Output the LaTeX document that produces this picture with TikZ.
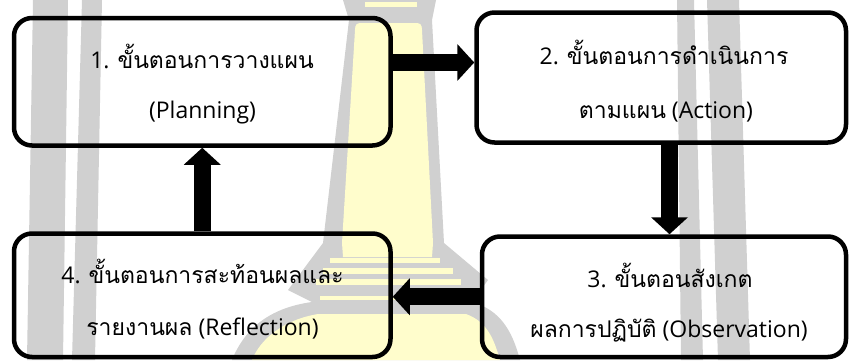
\documentclass[tikz,border=0pt]{standalone}
\usepackage{fontspec}
\setmainfont{Open Sans}
\newfontfamily\thaifont[Script=Thai]{Loma}
\newcommand\thx[1]{{\thaifont #1}}
\usetikzlibrary{arrows.meta,calc}
\definecolor{wmgray}{RGB}{208,208,208}
\definecolor{wmyel}{RGB}{255,253,204}
\begin{document}
\begin{tikzpicture}[x=1pt,y=-1pt,
  box/.style={draw=black, line width=4.5pt, rounded corners=18pt, inner sep=0pt},
  lbl/.style={anchor=base, inner sep=0pt, font=\fontsize{23}{28}\selectfont},
  fat/.style={line width=17pt, -{Triangle[length=17pt,width=36pt]}},
  wmg/.style={fill=wmgray, draw=none},
  wmy/.style={fill=wmyel, draw=none}]
\useasboundingbox (0,0) rectangle (849,360);
\clip (0,0) rectangle (849,360);
% ---- watermark ----
\fill[wmg] (33,0) -- (68,0) -- (63,360) -- (27,360) -- cycle;
\fill[wmg] (82,0) -- (102,0) -- (95,360) -- (72,360) -- cycle;
\fill[wmg] (677,0) -- (694,0) -- (703,360) -- (681,360) -- cycle;
\fill[wmg] (707,0) -- (739,0) -- (750,360) -- (718,360) -- cycle;
% stupa
\fill[wmg] (343,0) -- (436,0) -- (432,20) -- (444,243) -- (488,280) -- (472,302)
  .. controls (500,310) and (512,330) .. (520,360) -- (232,360)
  .. controls (244,330) and (268,308) .. (312,302) -- (288,290) -- (323,243) -- (349,20) -- cycle;
\fill[wmy] (365,2) rectangle (417,7);
\fill[wmy] (342,243) -- (355,30) .. controls (355,24) and (357,23) .. (362,23) -- (415,23)
  .. controls (420,23) and (422,24) .. (422,30) -- (433,243) -- (432,257) -- (343,257) -- cycle;
\fill[wmy] (330,258) rectangle (440,263);
\fill[wmy] (323,268) rectangle (453,274);
\fill[wmy] (316,279) rectangle (461,285);
\fill[wmy] (320,296) rectangle (462,300);
\fill[wmy] (318,314) .. controls (282,320) and (260,340) .. (252,360) -- (500,360)
  .. controls (494,340) and (488,322) .. (466,314) -- cycle;
% ---- boxes ----
\node[box, minimum width=376.5pt, minimum height=127.5pt] (b1) at (202.25,81.75) {};
\node[box, minimum width=369.5pt, minimum height=130pt] (b2) at (661.25,77.5) {};
\node[box, minimum width=364pt, minimum height=120.5pt] (b3) at (664,296.75) {};
\node[box, minimum width=376.5pt, minimum height=123.5pt] (b4) at (202.25,295.25) {};
% ---- texts ----
\node[lbl] (t1a) at (202,68) {1. \thx{ขั้นตอนการวางแผน}};
\node[lbl] (t1b) at (202.5,118) {(Planning)};
\node[lbl] (t2a) at (664,64) {2. \thx{ขั้นตอนการดำเนินการ}};
\node[lbl] (t2b) at (666,118) {\thx{ตามแผน} (Action)};
\node[lbl] (t3a) at (670,287) {3. \thx{ขั้นตอนสังเกต}};
\node[lbl] (t3b) at (669,337) {\thx{ผลการปฏิบัติ} (Observation)};
\node[lbl] (t4a) at (202.5,283) {4. \thx{ขั้นตอนการสะท้อนผลและ}};
\node[lbl] (t4b) at (202.5,335) {\thx{รายงานผล} (Reflection)};
% ---- arrows ----
\coordinate (y12) at (0,62.5);
\coordinate (x23) at (669.5,0);
\draw[fat] (b1.east |- y12) -- (b2.west |- y12);
\draw[fat] (b2.south -| x23) -- (b3.north -| x23);
\draw[fat] (b3.west) -- (b4.east |- b3.west);
\draw[fat] (b4.north) -- (b1.south);
\end{tikzpicture}
\end{document}
